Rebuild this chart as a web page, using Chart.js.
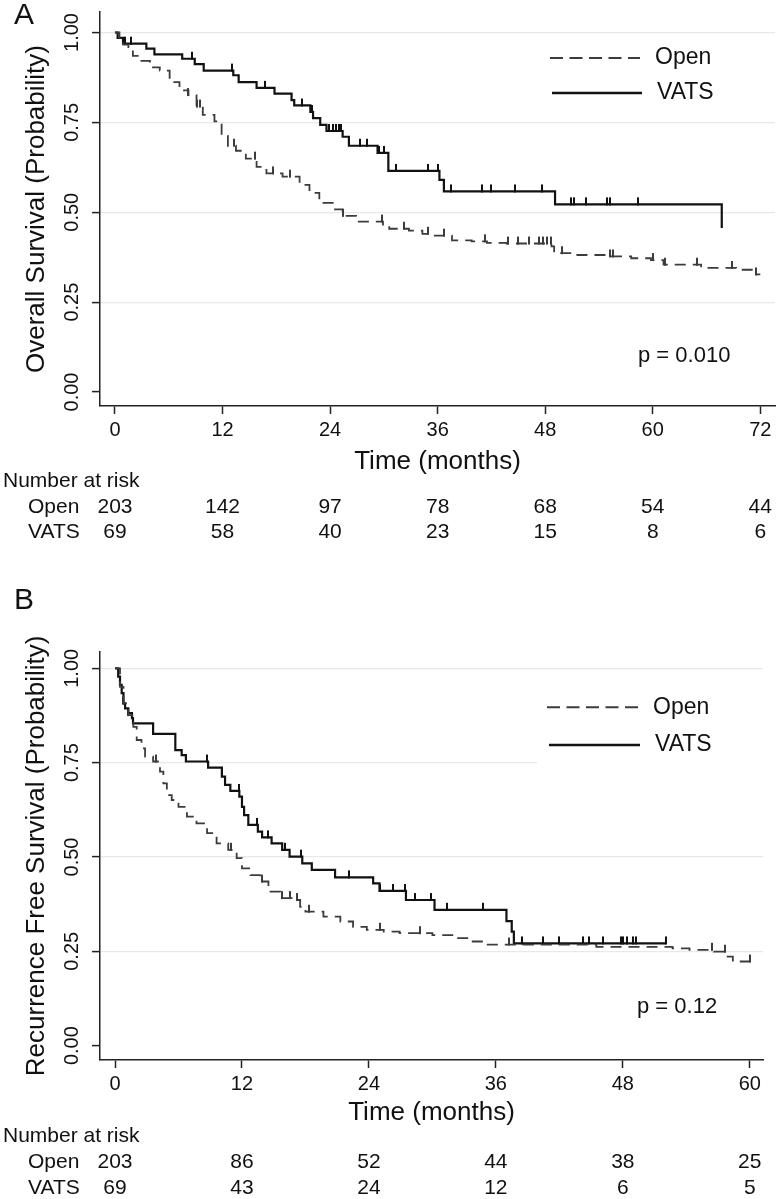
<!DOCTYPE html>
<html>
<head>
<meta charset="utf-8">
<script src="https://cdn.jsdelivr.net/npm/chart.js@4.4.1/dist/chart.umd.min.js"></script>
<style>
  html, body { margin: 0; padding: 0; background: #fff; }
  #wrap { position: relative; width: 780px; height: 1199px; }
  canvas { position: absolute; left: 0; }
</style>
</head>
<body>
<div id="wrap">
  <canvas id="chartA" width="780" height="580" style="top:0"></canvas>
  <canvas id="chartB" width="780" height="619" style="top:580px"></canvas>
</div>
<script>
const FONT = "'Liberation Sans', Arial, Helvetica, sans-serif";

// ─────────────────────────────────────────
// PANEL A – OVERALL SURVIVAL
// ─────────────────────────────────────────

const aOpenT = [0, 0.5, 0.93, 1.5, 2.0, 2.8, 3.9, 5.0, 6.1, 7.2, 8.2, 9.1, 9.8, 11.1, 11.9,
  12.6, 13.5, 14.6, 15.8, 16.9, 18.7, 20.6, 21.7, 22.8, 24.3, 25.4, 26.9, 29.9, 30.6, 32.8,
  34.3, 35.5, 37.6, 39.8, 41.5, 43.7, 48.7, 49.0, 51.0, 55.2, 57.6, 59.8, 61.2, 65.4, 69.3,
  71.2, 72.0];
const aOpenS = [1.0, 0.985, 0.966, 0.95, 0.935, 0.921, 0.903, 0.894, 0.862, 0.839, 0.826,
  0.794, 0.771, 0.753, 0.712, 0.685, 0.671, 0.649, 0.626, 0.608, 0.599, 0.576, 0.554, 0.526,
  0.508, 0.490, 0.474, 0.462, 0.454, 0.449, 0.440, 0.435, 0.422, 0.419, 0.415, 0.413, 0.405,
  0.386, 0.381, 0.377, 0.372, 0.367, 0.354, 0.345, 0.340, 0.327, 0.327];
const aOpenCens = [8.2, 9.1, 9.5, 13.3, 15.6, 17.6, 19.5, 25.4, 29.8, 32.3, 34.9, 36.7, 41.3,
  43.9, 45.0, 46.2, 47.3, 47.8, 48.2, 48.6, 49.9, 55.2, 55.6, 60.0, 61.4, 64.9, 68.8, 71.5];

const aVatsT = [0, 0.3, 0.9, 3.5, 4.4, 7.5, 8.9, 9.9, 13.2, 13.8, 15.8, 17.8, 19.7, 20.0,
  21.8, 22.1, 22.9, 23.6, 25.4, 26.1, 29.3, 30.5, 36.2, 36.7, 49.1, 67.7];
const aVatsS = [1.0, 0.985, 0.969, 0.955, 0.939, 0.927, 0.912, 0.894, 0.881, 0.862, 0.846,
  0.830, 0.812, 0.797, 0.779, 0.762, 0.743, 0.726, 0.710, 0.685, 0.665, 0.615, 0.590, 0.558,
  0.522, 0.456];
const aVatsCens = [1.1, 1.8, 8.6, 13.1, 16.7, 20.9, 22.0, 23.9, 24.3, 24.7, 25.0, 25.2, 27.3,
  28.1, 29.5, 30.0, 31.4, 34.9, 36.0, 37.5, 40.9, 41.9, 44.6, 47.6, 50.9, 51.2, 52.5, 54.9,
  55.2, 58.3];

const aTicksX = [0, 12, 24, 36, 48, 60, 72];
const aRiskOpen = [203, 142, 97, 78, 68, 54, 44];
const aRiskVats = [69, 58, 40, 23, 15, 8, 6];

// ─────────────────────────────────────────
// PANEL B – RECURRENCE FREE SURVIVAL
// ─────────────────────────────────────────

const bOpenT = [0, 0.47, 0.8, 1.26, 1.73, 2.05, 2.5, 2.84, 3.6, 4.25, 4.57, 4.9, 5.36, 6.0,
  6.8, 7.7, 8.7, 9.6, 10.7, 11.5, 12.0, 12.8, 13.7, 14.5, 15.6, 16.7, 17.5, 18.0, 19.7, 21.3,
  22.5, 23.8, 25.4, 26.9, 30.0, 32.0, 33.3, 34.8, 45.5, 52.7, 54.3, 56.6, 57.8, 58.4, 60.0];
const bOpenS = [1.0, 0.951, 0.907, 0.876, 0.845, 0.81, 0.788, 0.766, 0.753, 0.726, 0.695,
  0.664, 0.651, 0.633, 0.607, 0.589, 0.563, 0.536, 0.519, 0.497, 0.470, 0.452, 0.435, 0.408,
  0.391, 0.386, 0.368, 0.355, 0.342, 0.329, 0.315, 0.307, 0.302, 0.298, 0.293, 0.285, 0.276,
  0.268, 0.262, 0.258, 0.254, 0.249, 0.236, 0.223, 0.223];
const bOpenCens = [0.8, 1.26, 3.9, 11.0, 13.9, 15.8, 16.5, 17.2, 18.3, 25.0, 28.8, 37.2,
  56.4, 57.7, 60.0];

const bVatsT = [0, 0.3, 0.47, 0.63, 0.8, 0.95, 1.26, 1.6, 1.7, 3.6, 5.7, 6.3, 6.7, 8.8, 10.1,
  10.4, 10.9, 11.75, 12.0, 12.2, 12.6, 13.5, 13.9, 14.8, 15.8, 16.5, 17.7, 18.6, 20.8, 24.4,
  25.0, 27.5, 30.2, 37.0, 37.5, 37.7, 52.1];
const bVatsS = [1.0, 0.978, 0.956, 0.934, 0.907, 0.894, 0.881, 0.868, 0.854, 0.826, 0.783,
  0.770, 0.753, 0.737, 0.713, 0.691, 0.675, 0.660, 0.633, 0.611, 0.585, 0.567, 0.552, 0.536,
  0.519, 0.501, 0.483, 0.466, 0.446, 0.430, 0.410, 0.386, 0.360, 0.330, 0.302, 0.271, 0.271];
const bVatsCens = [8.7, 11.7, 13.4, 14.5, 16.1, 17.6, 22.1, 25.0, 26.3, 27.4, 28.4, 29.9,
  31.4, 34.8, 38.5, 40.5, 42.0, 44.2, 44.8, 46.1, 47.8, 48.0, 48.4, 49.0, 49.2, 52.1];

const bTicksX = [0, 12, 24, 36, 48, 60];
const bRiskOpen = [203, 86, 52, 44, 38, 25];
const bRiskVats = [69, 43, 24, 12, 6, 5];

const ticksY = [0, 0.25, 0.5, 0.75, 1];

// ─────────────────────────────────────────
// HELPERS
// ─────────────────────────────────────────

function steps(ts, ss) {
  return ts.map((t, i) => ({ x: t, y: ss[i] }));
}

// value of the step curve at time t (used to sit censor marks on the curve)
function survAt(ts, ss, t) {
  let s = ss[0];
  for (let i = 0; i < ts.length; i++) if (ts[i] <= t) s = ss[i];
  return s;
}

function censPoints(ts, ss, cens) {
  return cens.map(t => ({ x: t, y: survAt(ts, ss, t) }));
}

// small upward tick used as point style for censored cases
function censorMark(color) {
  const c = document.createElement("canvas");
  c.width = 2; c.height = 16;
  const g = c.getContext("2d");
  g.fillStyle = color;
  g.fillRect(0, 1, 2, 8);
  return c;
}
const markOpen = censorMark("#3c3c3c");
const markVats = censorMark("#111");

// ─────────────────────────────────────────
// EXTRA TEXT: panel letter, legend, p value, number at risk
// ─────────────────────────────────────────

const kmExtras = {
  id: "kmExtras",
  beforeDatasetsDraw(chart, args, o) {
    const ctx = chart.ctx;
    ctx.save();
    ctx.fillStyle = "#fff";
    ctx.fillRect(o.box[0], o.box[1], o.box[2], o.box[3]);
    ctx.restore();
  },
  afterDraw(chart, args, o) {
    const ctx = chart.ctx;
    const xs = chart.scales.x;
    ctx.save();
    ctx.fillStyle = "#111";
    ctx.textBaseline = "middle";

    ctx.font = "30px " + FONT;
    ctx.textAlign = "left";
    ctx.fillText(o.letter, 14, o.letterY);

    // legend
    ctx.lineWidth = 2;
    ctx.strokeStyle = "#3c3c3c";
    ctx.setLineDash([13, 6.5]);
    ctx.beginPath();
    ctx.moveTo(o.lineX[0], o.openY);
    ctx.lineTo(o.lineX[1], o.openY);
    ctx.stroke();
    ctx.strokeStyle = "#111";
    ctx.lineWidth = 2.3;
    ctx.setLineDash([]);
    ctx.beginPath();
    ctx.moveTo(o.lineX[0] + 2, o.vatsY);
    ctx.lineTo(o.lineX[1] + 2, o.vatsY);
    ctx.stroke();
    ctx.font = "23px " + FONT;
    ctx.fillText("Open", o.textX, o.openY);
    ctx.fillText("VATS", o.textX + 2, o.vatsY);

    // p value
    ctx.font = "22px " + FONT;
    ctx.fillText(o.pText, o.pX, o.pY);

    // number at risk
    ctx.font = "21px " + FONT;
    ctx.fillText("Number at risk", 3, o.riskY[0]);
    ctx.fillText("Open", 28, o.riskY[1]);
    ctx.fillText("VATS", 28, o.riskY[2]);
    ctx.textAlign = "center";
    o.riskTimes.forEach((t, i) => {
      const px = xs.getPixelForValue(t);
      ctx.fillText(String(o.riskOpen[i]), px, o.riskY[1]);
      ctx.fillText(String(o.riskVats[i]), px, o.riskY[2]);
    });
    ctx.restore();
  }
};

// ─────────────────────────────────────────
// CHART BUILDER
// ─────────────────────────────────────────

function makeChart(id, c) {
  return new Chart(document.getElementById(id), {
    type: "line",
    data: {
      datasets: [
        { label: "Open", data: steps(c.openT, c.openS), stepped: true,
          borderColor: "#3c3c3c", borderWidth: 1.8, borderDash: [11, 7],
          pointRadius: 0, fill: false },
        { label: "VATS", data: steps(c.vatsT, c.vatsS), stepped: true,
          borderColor: "#111", borderWidth: 2.2, pointRadius: 0, fill: false },
        { label: "Open censored", data: censPoints(c.openT, c.openS, c.openCens),
          showLine: false, pointStyle: markOpen, pointRadius: 4 },
        { label: "VATS censored", data: censPoints(c.vatsT, c.vatsS, c.vatsCens),
          showLine: false, pointStyle: markVats, pointRadius: 4 }
      ]
    },
    plugins: [kmExtras],
    options: {
      responsive: false,
      animation: false,
      events: [],
      layout: { padding: { left: 0, right: c.padRight, top: c.padTop, bottom: 0 } },
      plugins: {
        legend: { display: false },
        tooltip: { enabled: false },
        kmExtras: c.extras
      },
      scales: {
        x: {
          type: "linear",
          min: c.xMin, max: c.xMax,
          afterBuildTicks: s => { s.ticks = c.ticksX.map(v => ({ value: v })); },
          afterFit: s => { s.height = c.xAxisH; },
          grid: { drawOnChartArea: false, tickLength: 8, tickColor: "#222", tickWidth: 1.5 },
          border: { color: "#222", width: 1.5 },
          ticks: { color: "#111", font: { family: FONT, size: 20 }, padding: 4,
                   maxRotation: 0, autoSkip: false },
          title: { display: true, text: "Time (months)", color: "#111",
                   font: { family: FONT, size: 26 }, padding: { top: 0, bottom: c.xTitlePad } }
        },
        y: {
          min: c.yMin, max: c.yMax,
          afterBuildTicks: s => { s.ticks = ticksY.map(v => ({ value: v })); },
          afterFit: s => { s.width = 100; },
          grid: {
            color: ctx => (ctx.tick && ctx.tick.value === 0) ? "rgba(0,0,0,0)" : "#e8e8e8",
            lineWidth: 1.2, tickLength: 8, tickColor: "#222", tickWidth: 1.5
          },
          border: { color: "#222", width: 1.5 },
          ticks: { color: "#111", font: { family: FONT, size: 20 }, padding: 0,
                   minRotation: 90, maxRotation: 90, crossAlign: "center",
                   callback: v => v.toFixed(2) },
          title: { display: true, text: c.yTitle, color: "#111",
                   font: { family: FONT, size: 26 }, padding: { top: 21, bottom: 0 } }
        }
      }
    }
  });
}

makeChart("chartA", {
  openT: aOpenT, openS: aOpenS, openCens: aOpenCens,
  vatsT: aVatsT, vatsS: aVatsS, vatsCens: aVatsCens,
  ticksX: aTicksX,
  xMin: -1.67, xMax: 73.64, yMin: -0.039, yMax: 1.057,
  padTop: 3.3, padRight: 3, xAxisH: 174, xTitlePad: 102.7,
  yTitle: "Overall Survival (Probability)",
  extras: {
    letter: "A", letterY: 16,
    box: [537, 34, 243, 80],
    lineX: [550, 640], openY: 58, vatsY: 93, textX: 655,
    pText: "p = 0.010", pX: 638, pY: 356,
    riskY: [481.7, 507, 532],
    riskTimes: aTicksX, riskOpen: aRiskOpen, riskVats: aRiskVats
  }
});

makeChart("chartB", {
  openT: bOpenT, openS: bOpenS, openCens: bOpenCens,
  vatsT: bVatsT, vatsS: bVatsS, vatsCens: bVatsCens,
  ticksX: bTicksX,
  xMin: -1.42, xMax: 61.25, yMin: -0.038, yMax: 1.044,
  padTop: 71.7, padRight: 17, xAxisH: 139, xTitlePad: 70.4,
  yTitle: "Recurrence Free Survival (Probability)",
  extras: {
    letter: "B", letterY: 21,
    box: [537, 106, 226, 80],
    lineX: [547, 638], openY: 127.3, vatsY: 165, textX: 653,
    pText: "p = 0.12", pX: 637, pY: 426.7,
    riskY: [556.7, 582.7, 608],
    riskTimes: bTicksX, riskOpen: bRiskOpen, riskVats: bRiskVats
  }
});
</script>
</body>
</html>
